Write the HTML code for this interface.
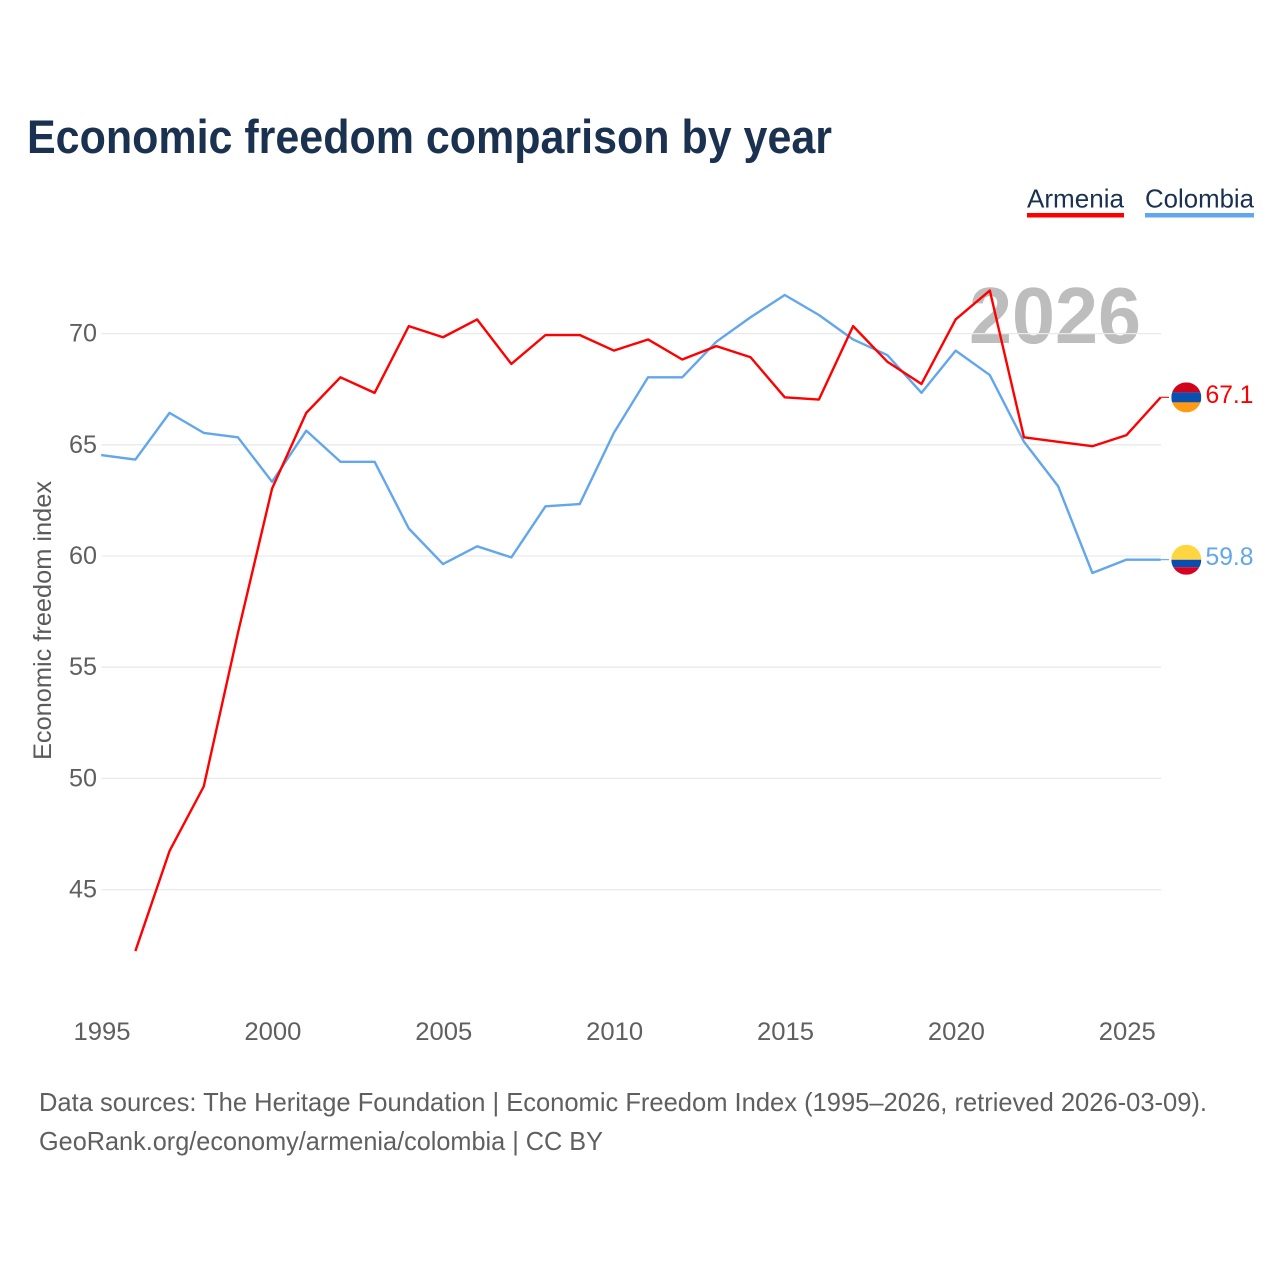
<!DOCTYPE html>
<html lang="en">
<head>
<meta charset="utf-8">
<title>Economic freedom comparison by year</title>
<style>
html,body{margin:0;padding:0;background:#fff;width:1280px;height:1280px;overflow:hidden}
svg{display:block}
text{font-family:"Liberation Sans",sans-serif}
</style>
</head>
<body>
<svg id="chart" width="1280" height="1280" viewBox="0 0 1280 1280" xmlns="http://www.w3.org/2000/svg">
  <defs>
    <clipPath id="clip-armenia"><circle id="clip-armenia-circle" r="15"></circle></clipPath>
    <clipPath id="clip-colombia"><circle id="clip-colombia-circle" r="15"></circle></clipPath>
  </defs>
  <rect width="1280" height="1280" fill="#fff"></rect>
  <text x="27" y="153" font-size="47" font-weight="700" fill="#1a3150" textLength="805" lengthAdjust="spacingAndGlyphs">Economic freedom comparison by year</text>

  <g>
    <text x="1027" y="207.5" font-size="26" fill="#1a3150" textLength="97" lengthAdjust="spacingAndGlyphs">Armenia</text>
    <rect x="1027" y="213" width="97" height="4.5" fill="#ff0000"></rect>
  </g>
  <g>
    <text x="1145" y="207.5" font-size="26" fill="#1a3150" textLength="109" lengthAdjust="spacingAndGlyphs">Colombia</text>
    <rect x="1145" y="213" width="109" height="4.5" fill="#62a6ec"></rect>
  </g>

  <text x="1055" y="343" font-size="80" font-weight="700" fill="#bdbdbd" text-anchor="middle" textLength="172" lengthAdjust="spacingAndGlyphs">2026</text>

  <g id="grid"></g>
  <g id="y-ticks"></g>
  <g id="x-ticks"></g>
  <text transform="translate(51,620.5) rotate(-90)" font-size="25" fill="#5b5b5b" text-anchor="middle" textLength="279" lengthAdjust="spacingAndGlyphs">Economic freedom index</text>

  <g id="series" transform="translate(-0.3,-0.8)"></g>

  <g id="flag-armenia" clip-path="url(#clip-armenia)"></g>
  <g id="flag-colombia" clip-path="url(#clip-colombia)"></g>
  <g id="end-labels"></g>

  <text x="39" y="1111" font-size="26" fill="#5f5f5f" textLength="1168" lengthAdjust="spacingAndGlyphs">Data sources: The Heritage Foundation | Economic Freedom Index (1995–2026, retrieved 2026-03-09).</text>
  <text x="39" y="1150" font-size="26" fill="#5f5f5f" textLength="564" lengthAdjust="spacingAndGlyphs">GeoRank.org/economy/armenia/colombia | CC BY</text>
</svg>
<script>
const years = [1995,1996,1997,1998,1999,2000,2001,2002,2003,2004,2005,2006,2007,2008,2009,2010,2011,2012,2013,2014,2015,2016,2017,2018,2019,2020,2021,2022,2023,2024,2025,2026];
const armeniaValues = [null,42.2,46.7,49.6,56.5,63.0,66.4,68.0,67.3,70.3,69.8,70.6,68.6,69.9,69.9,69.2,69.7,68.8,69.4,68.9,67.1,67.0,70.3,68.7,67.7,70.6,71.9,65.3,65.1,64.9,65.4,67.1];
const colombiaValues = [64.5,64.3,66.4,65.5,65.3,63.3,65.6,64.2,64.2,61.2,59.6,60.4,59.9,62.2,62.3,65.5,68.0,68.0,69.6,70.7,71.7,70.8,69.7,69.0,67.3,69.2,68.1,65.1,63.1,59.2,59.8,59.8];
const yTickValues = [45,50,55,60,65,70];
const xTickValues = [1995,2000,2005,2010,2015,2020,2025];

const NS = 'http://www.w3.org/2000/svg';
const xScale = function (year) { return 101.5 + (year - 1995) * (1161 - 101.5) / 31; };
const yScale = function (value) { return 556 - (value - 60) * 22.24; };

function make(tag, parent) {
  const el = document.createElementNS(NS, tag);
  parent.appendChild(el);
  return el;
}
function set(el, attrs) {
  Object.keys(attrs).forEach(function (k) { el.setAttribute(k, attrs[k]); });
  return el;
}

const gridGroup = document.getElementById('grid');
const yTickGroup = document.getElementById('y-ticks');
yTickValues.forEach(function (v) {
  const line = make('line', gridGroup);
  
  
  set(line, {x1: xScale(1995), x2: xScale(2026), y1: yScale(v), y2: yScale(v), stroke: '#e9e9e9', 'stroke-width': 1.3});
  const label = make('text', yTickGroup);
  
  
  set(label, {x: 97, y: yScale(v) + 8, 'font-size': 25, fill: '#5f5f5f', 'text-anchor': 'end', textLength: 28, lengthAdjust: 'spacingAndGlyphs'});
  label.textContent = String(v);
});

const xTickGroup = document.getElementById('x-ticks');
xTickValues.forEach(function (y) {
  const label = make('text', xTickGroup);
  
  
  set(label, {x: xScale(y) + 0.5, y: 1040, 'font-size': 25, fill: '#5f5f5f', 'text-anchor': 'middle', textLength: 57, lengthAdjust: 'spacingAndGlyphs'});
  label.textContent = String(y);
});

function pathFor(values) {
  let d = '';
  values.forEach(function (v, i) {
    if (v === null) return;
    d += (d ? 'L' : 'M') + xScale(years[i]).toFixed(2) + ' ' + yScale(v).toFixed(2);
  });
  return d;
}

const seriesGroup = document.getElementById('series');
const colombiaLine = make('path', seriesGroup);


set(colombiaLine, {d: pathFor(colombiaValues), fill: 'none', stroke: '#62a6ec', 'stroke-width': 2.4, 'stroke-linejoin': 'round'});
const armeniaLine = make('path', seriesGroup);


set(armeniaLine, {d: pathFor(armeniaValues), fill: 'none', stroke: '#ff0000', 'stroke-width': 2.4, 'stroke-linejoin': 'round'});

const flagX = 1186.3;
const lastArmenia = armeniaValues[armeniaValues.length - 1];
const lastColombia = colombiaValues[colombiaValues.length - 1];
const lastX = xScale(years[years.length - 1]);

const connectorA = make('line', seriesGroup);


set(connectorA, {x1: lastX, x2: flagX - 17, y1: yScale(lastArmenia), y2: yScale(lastArmenia), stroke: '#ff0000', 'stroke-width': 1.1});
const connectorC = make('line', seriesGroup);


set(connectorC, {x1: lastX, x2: flagX - 17, y1: yScale(lastColombia), y2: yScale(lastColombia), stroke: '#62a6ec', 'stroke-width': 1.1});

function drawFlag(groupId, clipId, value, bands) {
  const cy = yScale(value) - 0.7;
  set(document.getElementById(clipId), {cx: flagX, cy: cy});
  const group = document.getElementById(groupId);
  let top = cy - 15;
  bands.forEach(function (band) {
    const r = make('rect', group);
    
    
    set(r, {x: flagX - 15, y: top, width: 30, height: band[1] * 30, fill: band[0]});
    top += band[1] * 30;
  });
}
drawFlag('flag-armenia', 'clip-armenia-circle', lastArmenia, [['#d0021b', 1/3], ['#0a50b0', 1/3], ['#ff9a12', 1/3]]);
drawFlag('flag-colombia', 'clip-colombia-circle', lastColombia, [['#ffd540', 1/2], ['#0a4db0', 1/4], ['#da0020', 1/4]]);

const labelGroup = document.getElementById('end-labels');
const labelA = make('text', labelGroup);


set(labelA, {x: 1253.5, y: yScale(lastArmenia) + 5, 'font-size': 25, fill: '#ff0000', 'text-anchor': 'end', textLength: 48, lengthAdjust: 'spacingAndGlyphs'});
labelA.textContent = lastArmenia.toFixed(1);
const labelC = make('text', labelGroup);


set(labelC, {x: 1253.5, y: yScale(lastColombia) + 4.5, 'font-size': 25, fill: '#62a6ec', 'text-anchor': 'end', textLength: 48, lengthAdjust: 'spacingAndGlyphs'});
labelC.textContent = lastColombia.toFixed(1);
</script>
</body>
</html>
